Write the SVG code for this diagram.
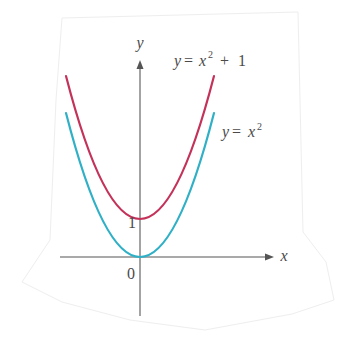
<svg xmlns="http://www.w3.org/2000/svg" width="340" height="349" viewBox="0 0 340 349">
<defs>
<style>
.axis{stroke:#8c8c8c;stroke-width:1.6;fill:none}
.arrow{fill:#555}
.curve{fill:none;stroke-width:2.2;stroke-linecap:round}
.red{stroke:#c4325a}
.teal{stroke:#2fb0c6}
.lbl{font-family:"Liberation Serif","Times New Roman",serif;font-size:16px;fill:#4a4a4a}
.it{font-style:italic}
.sup{font-size:10px}
.paper{fill:none;stroke:#eeeeee;stroke-width:1}
</style>
</defs>
<rect x="0" y="0" width="340" height="349" fill="#ffffff"/>
<path class="paper" d="M62,18 L298,12 L303,232 L326,262 L334,300 L292,314 L205,330 L130,320 L62,302 L22,282 L50,240 L56,100 Z"/>
<g id="connectors">
<line id="x-axis" class="axis" x1="60" y1="257" x2="268" y2="257"/>
<line id="y-axis" class="axis" x1="140" y1="316" x2="140" y2="66"/>
<path class="arrow" d="M274,257 L265,253.5 L265,260.5 Z"/>
<path class="arrow" d="M140,60 L136.5,69 L143.5,69 Z"/>
</g>
<g id="curve-red">
<path class="curve red" d="M66,76 Q140,362 214,76"/>
</g>
<g id="curve-teal">
<path class="curve teal" d="M66,113 Q140,401 214,113"/>
</g>
<g id="label-y"><text class="lbl it" x="140" y="48" text-anchor="middle">y</text></g>
<g id="label-x"><text class="lbl it" x="284" y="261" text-anchor="middle">x</text></g>
<g id="label-0"><text class="lbl" x="131" y="279" text-anchor="middle" font-size="14">0</text></g>
<g id="label-1"><text class="lbl" x="132" y="228" text-anchor="middle" font-size="14">1</text></g>
<g id="label-red">
<text class="lbl"><tspan class="it" x="174" y="66">y</tspan><tspan x="184" y="66">=</tspan><tspan class="it" x="199" y="66">x</tspan><tspan class="sup" x="208" y="58">2</tspan><tspan x="220" y="66">+</tspan><tspan x="238" y="66">1</tspan></text>
</g>
<g id="label-teal">
<text class="lbl"><tspan class="it" x="222" y="137">y</tspan><tspan x="232" y="137">=</tspan><tspan class="it" x="248" y="137">x</tspan><tspan class="sup" x="257" y="130">2</tspan></text>
</g>
</svg>
